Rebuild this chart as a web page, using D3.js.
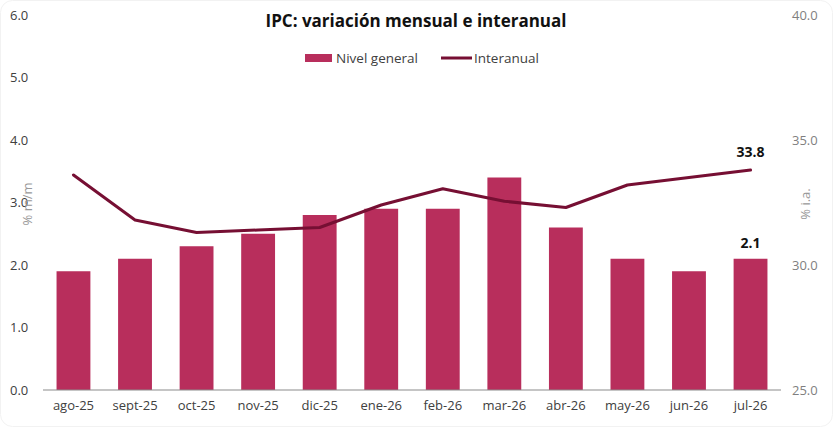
<!DOCTYPE html>
<html>
<head>
<meta charset="utf-8">
<script src="https://cdn.jsdelivr.net/npm/d3@7"></script>
<style>
  body { margin: 0; background: #fff; }
  text { font-family: "Open Sans", "Lato", sans-serif; }
</style>
</head>
<body>
<div id="chart"></div>
<script>
// data
months = ["ago-25", "sept-25", "oct-25", "nov-25", "dic-25", "ene-26", "feb-26", "mar-26", "abr-26", "may-26", "jun-26", "jul-26"]
monthly = [1.9, 2.1, 2.3, 2.5, 2.8, 2.9, 2.9, 3.4, 2.6, 2.1, 1.9, 2.1]
yearly = [33.6, 31.8, 31.3, 31.4, 31.5, 32.4, 33.05, 32.55, 32.3, 33.2, 33.5, 33.8]
leftTicks = [0, 1, 2, 3, 4, 5, 6]
rightTicks = [25, 30, 35, 40]

const W = 833, H = 427;
const margin = { top: 15, right: 52, bottom: 37, left: 43 };
const barColor = "#b82e5c", lineColor = "#760f33";

const svg = d3.select("#chart").append("svg")
    .attr("width", W)
    .attr("height", H);

svg.append("rect")
    .attr("x", 0.5).attr("y", 0.5)
    .attr("width", W - 1).attr("height", H - 1)
    .attr("rx", 12)
    .attr("fill", "#fff")
    .attr("stroke", "#f2f2f2");

const xScale = d3.scaleBand()
    .domain(months)
    .range([margin.left, W - margin.right])
    .paddingInner(0.45)
    .paddingOuter(0.22);

const yLeft = d3.scaleLinear().domain([0, 6]).range([H - margin.bottom, margin.top]);
const yRight = d3.scaleLinear().domain([25, 40]).range([H - margin.bottom, margin.top]);

// bars
svg.selectAll(".bar")
    .data(monthly)
    .join("rect")
    .attr("class", "bar")
    .attr("x", (d, i) => xScale(months[i]))
    .attr("y", d => yLeft(d))
    .attr("width", xScale.bandwidth())
    .attr("height", d => yLeft(0) - yLeft(d))
    .attr("fill", barColor);

// x axis
const xAxis = svg.append("g")
    .attr("transform", "translate(0," + yLeft(0) + ")")
    .call(d3.axisBottom(xScale).tickSize(0).tickPadding(11));
xAxis.select(".domain").attr("stroke", "#8c8c8c").attr("stroke-width", 1.2)
    .attr("d", "M" + margin.left + ",0H" + (W - margin.right));
xAxis.selectAll("text").attr("fill", "#404040").style("font-size", "13px");

// left axis
const leftAxis = svg.append("g")
    .attr("transform", "translate(10,0)")
    .call(d3.axisLeft(yLeft).tickValues(leftTicks).tickFormat(d3.format(".1f")).tickSize(0));
leftAxis.select(".domain").remove();
leftAxis.selectAll("text").attr("text-anchor", "start").attr("x", 0)
    .attr("fill", "#404040").style("font-size", "13px");

// right axis
const rightAxis = svg.append("g")
    .attr("transform", "translate(792,0)")
    .call(d3.axisRight(yRight).tickValues(rightTicks).tickFormat(d3.format(".1f")).tickSize(0));
rightAxis.select(".domain").remove();
rightAxis.selectAll("text").attr("x", 0)
    .attr("fill", "#7f7f7f").style("font-size", "13px");

// axis titles
svg.append("text")
    .attr("transform", "translate(32,204) rotate(-90)")
    .attr("text-anchor", "middle")
    .attr("fill", "#999999")
    .style("font-size", "13px")
    .text("% m/m");

svg.append("text")
    .attr("transform", "translate(810,204) rotate(-90)")
    .attr("text-anchor", "middle")
    .attr("fill", "#999999")
    .style("font-size", "13px")
    .text("% i.a.");

// line
const line = d3.line()
    .x((d, i) => xScale(months[i]) + xScale.bandwidth() / 2)
    .y(d => yRight(d));

svg.append("path")
    .datum(yearly)
    .attr("fill", "none")
    .attr("stroke", lineColor)
    .attr("stroke-width", 3)
    .attr("stroke-linejoin", "round")
    .attr("stroke-linecap", "round")
    .attr("d", line);

// last value labels
const last = months.length - 1;
const lastX = xScale(months[last]) + xScale.bandwidth() / 2;
svg.append("text")
    .attr("x", lastX).attr("y", yRight(yearly[last]) - 13)
    .attr("text-anchor", "middle")
    .attr("font-weight", "bold")
    .style("font-size", "14px")
    .attr("fill", "#111")
    .text(d3.format(".1f")(yearly[last]));

svg.append("text")
    .attr("x", lastX).attr("y", yLeft(monthly[last]) - 11)
    .attr("text-anchor", "middle")
    .attr("font-weight", "bold")
    .style("font-size", "14px")
    .attr("fill", "#111")
    .text(d3.format(".1f")(monthly[last]));

// title
svg.append("text")
    .attr("x", 416).attr("y", 27)
    .attr("text-anchor", "middle")
    .attr("font-weight", "bold")
    .style("font-size", "17px")
    .attr("fill", "#111")
    .text("IPC: variación mensual e interanual");

// legend
const legend = svg.append("g").attr("transform", "translate(0,58)");
legend.append("rect")
    .attr("x", 305).attr("y", -4)
    .attr("width", 27).attr("height", 8)
    .attr("fill", barColor);
legend.append("text")
    .attr("x", 336).attr("y", 5)
    .attr("fill", "#404040")
    .style("font-size", "13.5px")
    .text("Nivel general");
legend.append("line")
    .attr("x1", 441).attr("x2", 472)
    .attr("stroke", lineColor)
    .attr("stroke-width", 3);
legend.append("text")
    .attr("x", 474).attr("y", 5)
    .attr("fill", "#404040")
    .style("font-size", "13.5px")
    .text("Interanual");
</script>
</body>
</html>
